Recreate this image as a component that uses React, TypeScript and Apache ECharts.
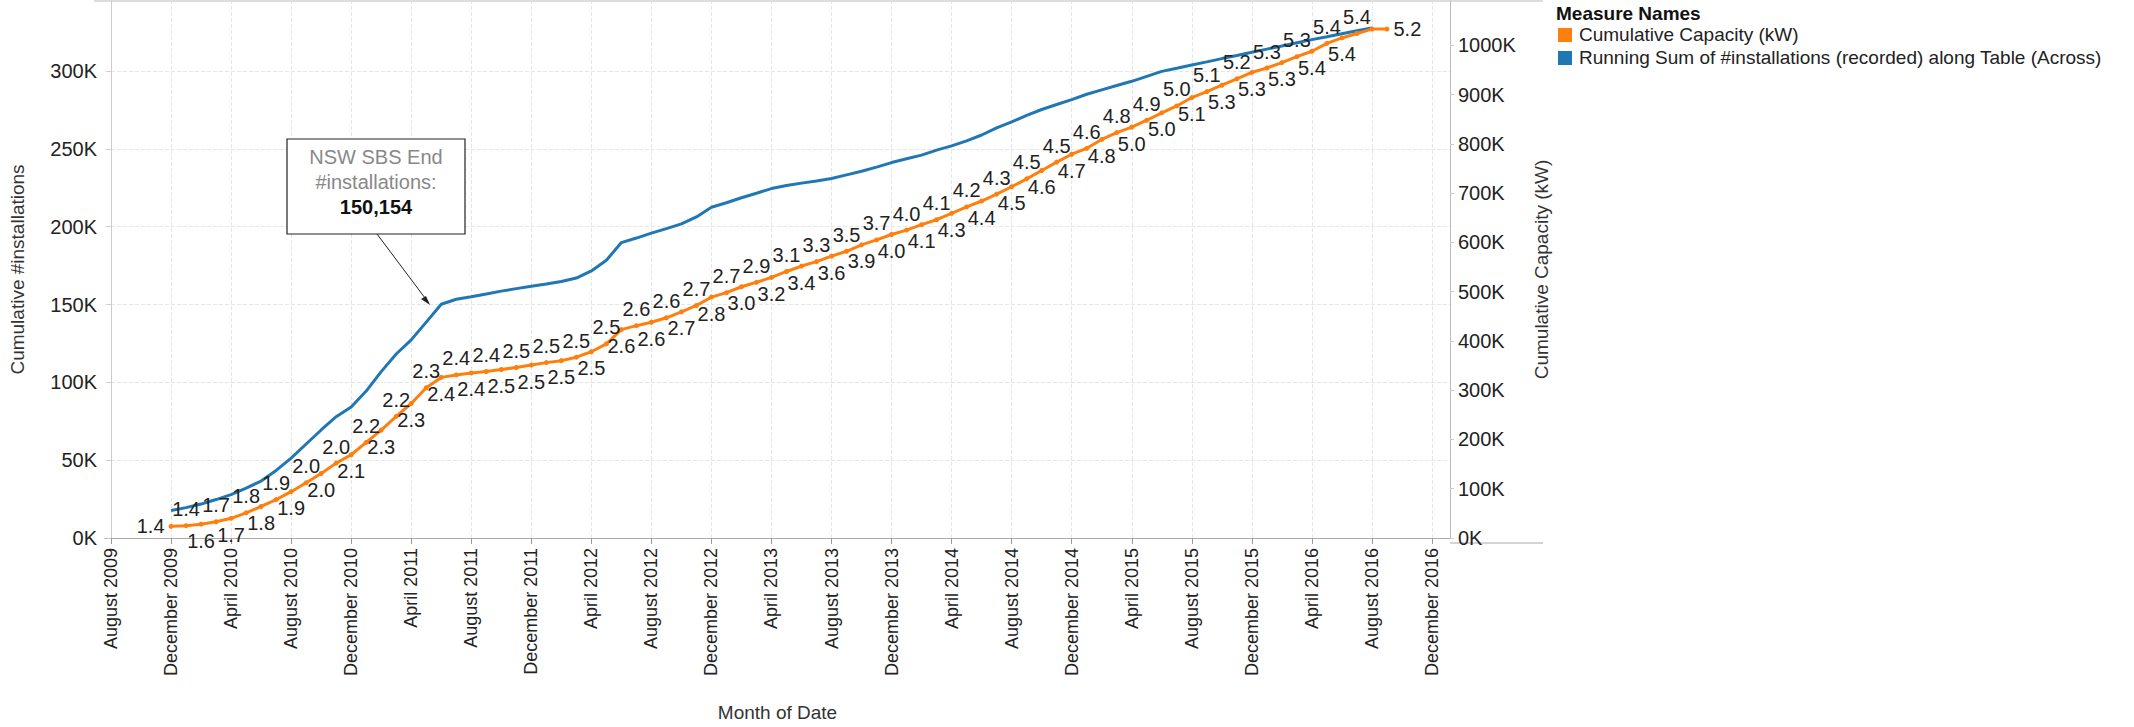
import React, { useEffect, useRef } from "react";
import * as echarts from "echarts";

// month offsets counted from August 2009
const MONTHS = ["January", "February", "March", "April", "May", "June", "July", "August", "September", "October", "November", "December"];
const tickMonths = [0, 4, 8, 12, 16, 20, 24, 28, 32, 36, 40, 44, 48, 52, 56, 60, 64, 68, 72, 76, 80, 84, 88];
const firstMonth = 4; // December 2009

const installations = [
  17.7, 19.5, 21.8, 24.7, 27.9, 32, 36.6, 43.4, 51.3, 60.4, 69.4, 77.9, 84.2, 94.4, 106.9, 118.2, 127.3, 138.7, 150.154,
  153.4, 155, 156.8, 158.6, 160.2, 161.8, 163.2, 164.8, 167, 171.6, 178.4, 189.8, 192.7, 195.9, 198.8, 201.8, 206.3,
  212.5, 215.4, 218.6, 221.5, 224.5, 226.5, 228, 229.4, 231, 233.3, 235.6, 238.3, 241.2, 243.7, 246, 249.2, 251.9,
  255.1, 258.9, 263.5, 267.3, 271.5, 275.3, 278.5, 281.6, 285.1, 287.9, 290.7, 293.4, 296.6, 299.8, 301.8, 303.9,
  305.9, 308, 310, 312.1, 314.1, 316.1, 318.2, 320.2, 322, 324, 325.9, 327.7,
];

const capacity = [
  23.6, 25, 28, 33, 40, 51, 64, 78, 94, 112, 131, 152, 169, 194, 219, 247, 273, 305, 326, 331, 335, 338, 342, 346,
  351, 356, 360, 367, 378, 394, 423, 431, 438, 447, 459, 472, 489, 498, 510, 519, 529, 541, 552, 561, 572, 582, 595,
  605, 616, 625, 636, 646, 659, 672, 684, 698, 713, 729, 746, 763, 779, 791, 809, 823, 834, 848, 863, 877, 894, 906,
  919, 932, 945, 954, 965, 977, 988, 1004, 1015, 1024, 1033, 1033,
];

const labelsAbove = [
  "1.4", "1.7", "1.8", "1.9", "2.0", "2.0", "2.2", "2.2", "2.3", "2.4", "2.4", "2.5", "2.5", "2.5", "2.5", "2.6",
  "2.6", "2.7", "2.7", "2.9", "3.1", "3.3", "3.5", "3.7", "4.0", "4.1", "4.2", "4.3", "4.5", "4.5", "4.6", "4.8",
  "4.9", "5.0", "5.1", "5.2", "5.3", "5.3", "5.4", "5.4", "5.4",
];
const labelsBelow = [
  "1.6", "1.7", "1.8", "1.9", "2.0", "2.1", "2.3", "2.3", "2.4", "2.4", "2.5", "2.5", "2.5", "2.5", "2.6", "2.6",
  "2.7", "2.8", "3.0", "3.2", "3.4", "3.6", "3.9", "4.0", "4.1", "4.3", "4.4", "4.5", "4.6", "4.7", "4.8", "5.0",
  "5.0", "5.1", "5.3", "5.3", "5.3", "5.4", "5.4",
];
const firstLabel = "1.4";
const lastLabel = "5.2";

const monthName = (m: number) => {
  const t = 2009 * 12 + 7 + m;
  return `${MONTHS[t % 12]} ${Math.floor(t / 12)}`;
};

const SANS = "'Liberation Sans', Arial, sans-serif";
const BLUE = "#1f77b4";
const ORANGE = "#ff7f0e";

export default function App() {
  const ref = useRef<HTMLDivElement>(null);

  useEffect(() => {
    if (!ref.current) return;
    const chart = echarts.init(ref.current, undefined, { renderer: "svg" });

    const n = capacity.length;
    const orangeData = capacity.map((v, i) => {
      let text = "";
      let position = "top";
      if (i === 0) { text = firstLabel; position = "left"; }
      else if (i === n - 1) { text = lastLabel; position = "right"; }
      else if (i % 2 === 1) { text = labelsAbove[(i - 1) / 2] ?? ""; position = "top"; }
      else { text = labelsBelow[i / 2 - 1] ?? ""; position = "bottom"; }
      return { value: [firstMonth + i, v], label: { position, formatter: text } };
    });
    const blueData = installations.map((v, i) => [firstMonth + i, v]);

    chart.setOption({
      animation: false,
      backgroundColor: "#fff",
      grid: { left: 94, right: 684, top: 1, bottom: 184 },
      xAxis: {
        type: "value",
        min: -0.4,
        max: 89.2,
        name: "Month of Date",
        nameLocation: "middle",
        nameGap: 165,
        nameTextStyle: { fontFamily: SANS, fontSize: 19, color: "#333" },
        axisLine: { lineStyle: { color: "#aaa" } },
        axisTick: { customValues: tickMonths, length: 6, lineStyle: { color: "#999" } },
        axisLabel: {
          customValues: tickMonths,
          rotate: 90,
          formatter: (v: number) => monthName(Math.round(v)),
          fontFamily: SANS,
          fontSize: 18,
          color: "#222",
          margin: 10,
        },
        splitLine: { show: false },
      },
      yAxis: [
        {
          type: "value",
          min: 0,
          max: 345,
          interval: 50,
          name: "Cumulative #installations",
          nameLocation: "middle",
          nameGap: 78,
          nameTextStyle: { fontFamily: SANS, fontSize: 19, color: "#333" },
          axisLine: { show: true, lineStyle: { color: "#ccc" } },
          axisTick: { show: true, length: 4, lineStyle: { color: "#ccc" } },
          axisLabel: { showMaxLabel: false, formatter: (v: number) => `${v}K`, fontFamily: SANS, fontSize: 20, color: "#222", margin: 8 },
          splitLine: { showMaxLine: false, lineStyle: { color: "#e6e6e6", type: "dashed" } },
        },
        {
          type: "value",
          min: 0,
          max: 1090,
          interval: 100,
          name: "Cumulative Capacity (kW)",
          nameLocation: "middle",
          nameGap: 82,
          nameTextStyle: { fontFamily: SANS, fontSize: 19, color: "#333" },
          axisLine: { show: true, lineStyle: { color: "#bbb" } },
          axisTick: { show: true, length: 4, lineStyle: { color: "#ccc" } },
          axisLabel: { showMaxLabel: false, formatter: (v: number) => `${v}K`, fontFamily: SANS, fontSize: 20, color: "#222", margin: 8 },
          splitLine: { show: false },
        },
      ],
      legend: { show: false },
      series: [
        {
          name: "Running Sum of #installations (recorded) along Table (Across)",
          type: "line",
          yAxisIndex: 0,
          data: blueData,
          showSymbol: false,
          lineStyle: { color: BLUE, width: 3 },
          itemStyle: { color: BLUE },
          z: 2,
          markLine: {
            silent: true,
            symbol: "none",
            label: { show: false },
            lineStyle: { color: "#e6e6e6", type: "dashed", width: 1 },
            data: tickMonths.map((m) => ({ xAxis: m })),
            z: 0,
          },
        },
        {
          name: "Cumulative Capacity (kW)",
          type: "line",
          yAxisIndex: 1,
          data: orangeData,
          symbol: "circle",
          symbolSize: 5,
          lineStyle: { color: ORANGE, width: 3 },
          itemStyle: { color: ORANGE },
          label: { show: true, fontFamily: SANS, fontSize: 20, color: "#222", distance: 4 },
          labelLayout: { hideOverlap: false },
          z: 3,
        },
      ],
      graphic: [
        { type: "line", shape: { x1: 94, y1: 1, x2: 1543, y2: 1 }, style: { stroke: "#bbb", lineWidth: 1 } },
        { type: "line", shape: { x1: 1450, y1: 543, x2: 1543, y2: 543 }, style: { stroke: "#aaa", lineWidth: 1 } },
        // annotation
        { type: "rect", shape: { x: 287, y: 139, width: 178, height: 95 }, style: { fill: "#fff", stroke: "#222", lineWidth: 1.2 }, z: 10 },
        { type: "text", x: 376, y: 147, style: { text: "NSW SBS End", font: `20px ${SANS}`, fill: "#888", align: "center" }, z: 11 },
        { type: "text", x: 376, y: 172, style: { text: "#installations:", font: `20px ${SANS}`, fill: "#888", align: "center" }, z: 11 },
        { type: "text", x: 376, y: 197, style: { text: "150,154", font: `bold 20px ${SANS}`, fill: "#111", align: "center" }, z: 11 },
        { type: "line", shape: { x1: 377, y1: 234, x2: 428, y2: 302 }, style: { stroke: "#222", lineWidth: 1 }, z: 11 },
        { type: "polygon", shape: { points: [[430, 305], [421, 299], [426, 296]] }, style: { fill: "#222" }, z: 11 },
        // legend
        { type: "text", x: 1556, y: 4, style: { text: "Measure Names", font: `bold 19px ${SANS}`, fill: "#111" } },
        { type: "rect", shape: { x: 1558, y: 28, width: 14, height: 14 }, style: { fill: ORANGE } },
        { type: "text", x: 1579, y: 25, style: { text: "Cumulative Capacity (kW)", font: `19px ${SANS}`, fill: "#222" } },
        { type: "rect", shape: { x: 1558, y: 51, width: 14, height: 14 }, style: { fill: BLUE } },
        { type: "text", x: 1579, y: 48, style: { text: "Running Sum of #installations (recorded) along Table (Across)", font: `19px ${SANS}`, fill: "#222" } },
      ],
    });

    return () => chart.dispose();
  }, []);

  return <div ref={ref} style={{ width: 2134, height: 727, position: "absolute", left: 0, top: 0 }} />;
}
